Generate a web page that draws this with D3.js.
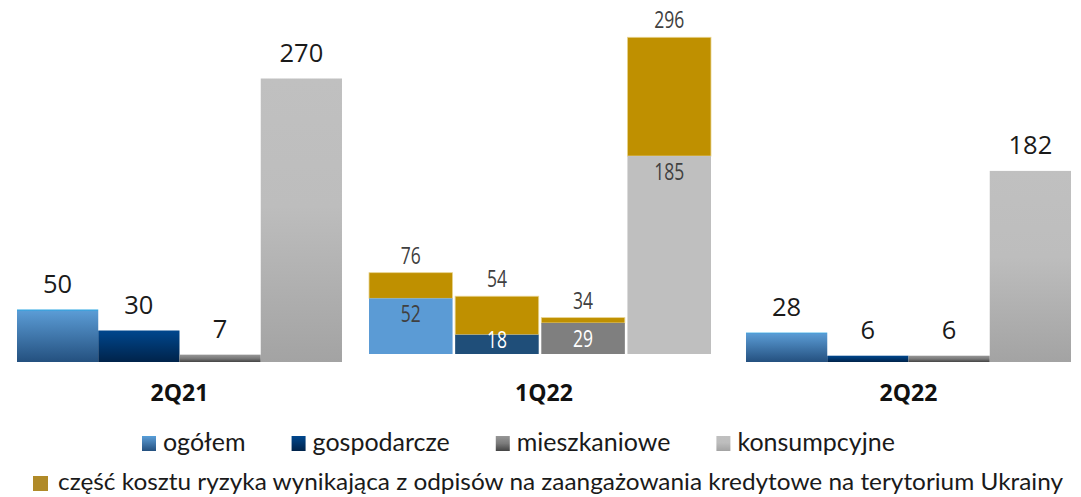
<!DOCTYPE html>
<html>
<head>
<meta charset="utf-8">
<script src="https://cdn.jsdelivr.net/npm/d3@7"></script>
<style>
	body { margin: 0; background: #ffffff; }
	svg { display: block; }
</style>
</head>
<body>
<div class="chart"></div>
<script>

// ----------------------------------------------------------
// data
var categories = ["2Q21", "1Q22", "2Q22"];
var seriesNames = ["ogółem", "gospodarcze", "mieszkaniowe", "konsumpcyjne"];
var values2Q21 = [50, 30, 7, 270];
var values2Q22 = [28, 6, 6, 182];
var values1Q22Base = [52, 18, 29, 185];
var values1Q22Total = [76, 54, 34, 296];
var ukraineLabel = "część kosztu ryzyka wynikająca z odpisów na zaangażowania kredytowe na terytorium Ukrainy";

var width = 1081, height = 497;

var svg = d3.select(".chart")
	.append("svg")
	.attr("width", width)
	.attr("height", height);

// ----------------------------------------------------------
// gradients (excel style fills)
var defs = svg.append("defs");
var gradientStops = {
	"g-ogolem": [[0, "#2aa6e2"], [0.04, "#5a9bd4"], [1, "#24507f"]],
	"g-gosp": [[0, "#00478e"], [1, "#00234a"]],
	"g-mieszk": [[0, "#979797"], [0.5, "#7a7a7a"], [1, "#444444"]],
	"g-kons": [[0, "#c0c0c0"], [0.45, "#bdbdbd"], [1, "#a3a3a3"]]
};
Object.keys(gradientStops).forEach(function(id) {
	var g = defs.append("linearGradient")
		.attr("id", id)
		.attr("x1", 0).attr("y1", 0)
		.attr("x2", 0).attr("y2", 1);
	gradientStops[id].forEach(function(s) {
		g.append("stop").attr("offset", s[0]).attr("stop-color", s[1]);
	});
});

var gradientFill = ["url(#g-ogolem)", "url(#g-gosp)", "url(#g-mieszk)", "url(#g-kons)"];
var solidFill = ["#5b9bd5", "#1f4e79", "#7f7f7f", "#bfbfbf"];
var goldFill = "#bf9000";

// ----------------------------------------------------------
// scales
var x = d3.scaleBand()
	.domain(categories)
	.range([17, 1071])
	.paddingInner(0.1084)
	.paddingOuter(0);

var xInner = d3.scaleBand()
	.domain(seriesNames)
	.range([0, x.bandwidth()])
	.padding(0);

// middle quarter was a separate, slightly wider chart in the original
var xInnerMid = d3.scaleBand()
	.domain(seriesNames)
	.range([-12.5, x.bandwidth() + 4.5])
	.paddingInner(0.03)
	.paddingOuter(0);

var y = d3.scaleLinear()
	.domain([0, 300])
	.range([362, 47]);

var yMid = d3.scaleLinear()
	.domain([0, 300])
	.range([354, 33]);

// ----------------------------------------------------------
// simple quarters (2Q21, 2Q22)
function simpleGroup(cat, values) {
	var g = svg.append("g")
		.attr("transform", "translate(" + x(cat) + ",0)");

	g.selectAll("rect")
		.data(values)
		.enter()
		.append("rect")
		.attr("x", function(d, i) { return xInner(seriesNames[i]); })
		.attr("y", function(d) { return y(d); })
		.attr("width", xInner.bandwidth())
		.attr("height", function(d) { return y(0) - y(d); })
		.style("fill", function(d, i) { return gradientFill[i]; });

	g.selectAll("text.value")
		.data(values)
		.enter()
		.append("text")
		.attr("class", "value")
		.attr("x", function(d, i) { return xInner(seriesNames[i]) + xInner.bandwidth() / 2; })
		.attr("y", function(d) { return y(d) - 17; })
		.style("text-anchor", "middle")
		.style("fill", "#1a1a1a")
		.style("font-size", "25.5px")
		.attr("font-family", "Open Sans, sans-serif")
		.text(function(d) { return d; });
}

simpleGroup("2Q21", values2Q21);
simpleGroup("2Q22", values2Q22);

// ----------------------------------------------------------
// 1Q22 with the Ukraine part stacked on top
var mid = svg.append("g")
	.attr("transform", "translate(" + x("1Q22") + ",0)");

var midData = values1Q22Base.map(function(b, i) {
	return { name: seriesNames[i], base: b, total: values1Q22Total[i], i: i };
});

mid.selectAll("rect.top")
	.data(midData)
	.enter()
	.append("rect")
	.attr("class", "top")
	.attr("x", function(d) { return xInnerMid(d.name); })
	.attr("y", function(d) { return yMid(d.total); })
	.attr("width", xInnerMid.bandwidth())
	.attr("height", function(d) { return yMid(d.base) - yMid(d.total); })
	.style("fill", goldFill)
	.style("stroke", "#e8d490")
	.style("stroke-width", 0.8);

mid.selectAll("rect.base")
	.data(midData)
	.enter()
	.append("rect")
	.attr("class", "base")
	.attr("x", function(d) { return xInnerMid(d.name); })
	.attr("y", function(d) { return yMid(d.base); })
	.attr("width", xInnerMid.bandwidth())
	.attr("height", function(d) { return yMid(0) - yMid(d.base); })
	.style("fill", function(d) { return solidFill[d.i]; });

// condensed look of the original labels: squeeze glyphs to ~10px per digit
var narrowFont = "Open Sans, sans-serif";
function narrowLength(d) { return String(d).length * 10; }

mid.selectAll("text.total")
	.data(midData)
	.enter()
	.append("text")
	.attr("class", "total")
	.attr("x", function(d) { return xInnerMid(d.name) + xInnerMid.bandwidth() / 2; })
	.attr("y", function(d) { return yMid(d.total) - 9; })
	.attr("textLength", function(d) { return narrowLength(d.total); })
	.attr("lengthAdjust", "spacingAndGlyphs")
	.style("text-anchor", "middle")
	.style("fill", "#404040")
	.style("font-size", "23px")
	.attr("font-family", narrowFont)
	.text(function(d) { return d.total; });

mid.selectAll("text.base")
	.data(midData)
	.enter()
	.append("text")
	.attr("class", "base")
	.attr("x", function(d) { return xInnerMid(d.name) + xInnerMid.bandwidth() / 2; })
	.attr("y", function(d) { return Math.min(yMid(d.base) + 24, yMid(0) - 6); })
	.attr("textLength", function(d) { return narrowLength(d.base); })
	.attr("lengthAdjust", "spacingAndGlyphs")
	.style("text-anchor", "middle")
	.style("fill", function(d) { return (d.i == 1 || d.i == 2) ? "#ffffff" : "#404040"; })
	.style("font-size", "23px")
	.attr("font-family", narrowFont)
	.text(function(d) { return d.base; });

// ----------------------------------------------------------
// category labels
svg.selectAll("text.cat")
	.data(categories)
	.enter()
	.append("text")
	.attr("class", "cat")
	.attr("x", function(d) { return x(d) + x.bandwidth() / 2; })
	.attr("y", 401)
	.style("text-anchor", "middle")
	.style("fill", "#111111")
	.style("font-size", "23px")
	.style("font-weight", "bold")
	.attr("font-family", "Open Sans, sans-serif")
	.text(function(d) { return d; });

// ----------------------------------------------------------
// legend
var legendFont = "Lato, sans-serif";
var legendX = 142;
seriesNames.forEach(function(name, i) {
	svg.append("rect")
		.attr("x", legendX)
		.attr("y", 436)
		.attr("width", 14)
		.attr("height", 15)
		.style("fill", gradientFill[i]);
	var t = svg.append("text")
		.attr("x", legendX + 21)
		.attr("y", 451)
		.style("fill", "#1a1a1a")
		.style("font-size", "25px")
		.attr("font-family", legendFont)
		.text(name);
	legendX = legendX + 21 + t.node().getComputedTextLength() + 46;
});

svg.append("rect")
	.attr("x", 33)
	.attr("y", 476)
	.attr("width", 15)
	.attr("height", 15)
	.style("fill", "#b08a28");

svg.append("text")
	.attr("x", 58)
	.attr("y", 490)
	.attr("textLength", 1005)
	.attr("lengthAdjust", "spacingAndGlyphs")
	.style("fill", "#1a1a1a")
	.style("font-size", "23px")
	.attr("font-family", legendFont)
	.text(ukraineLabel);

</script>
</body>
</html>
